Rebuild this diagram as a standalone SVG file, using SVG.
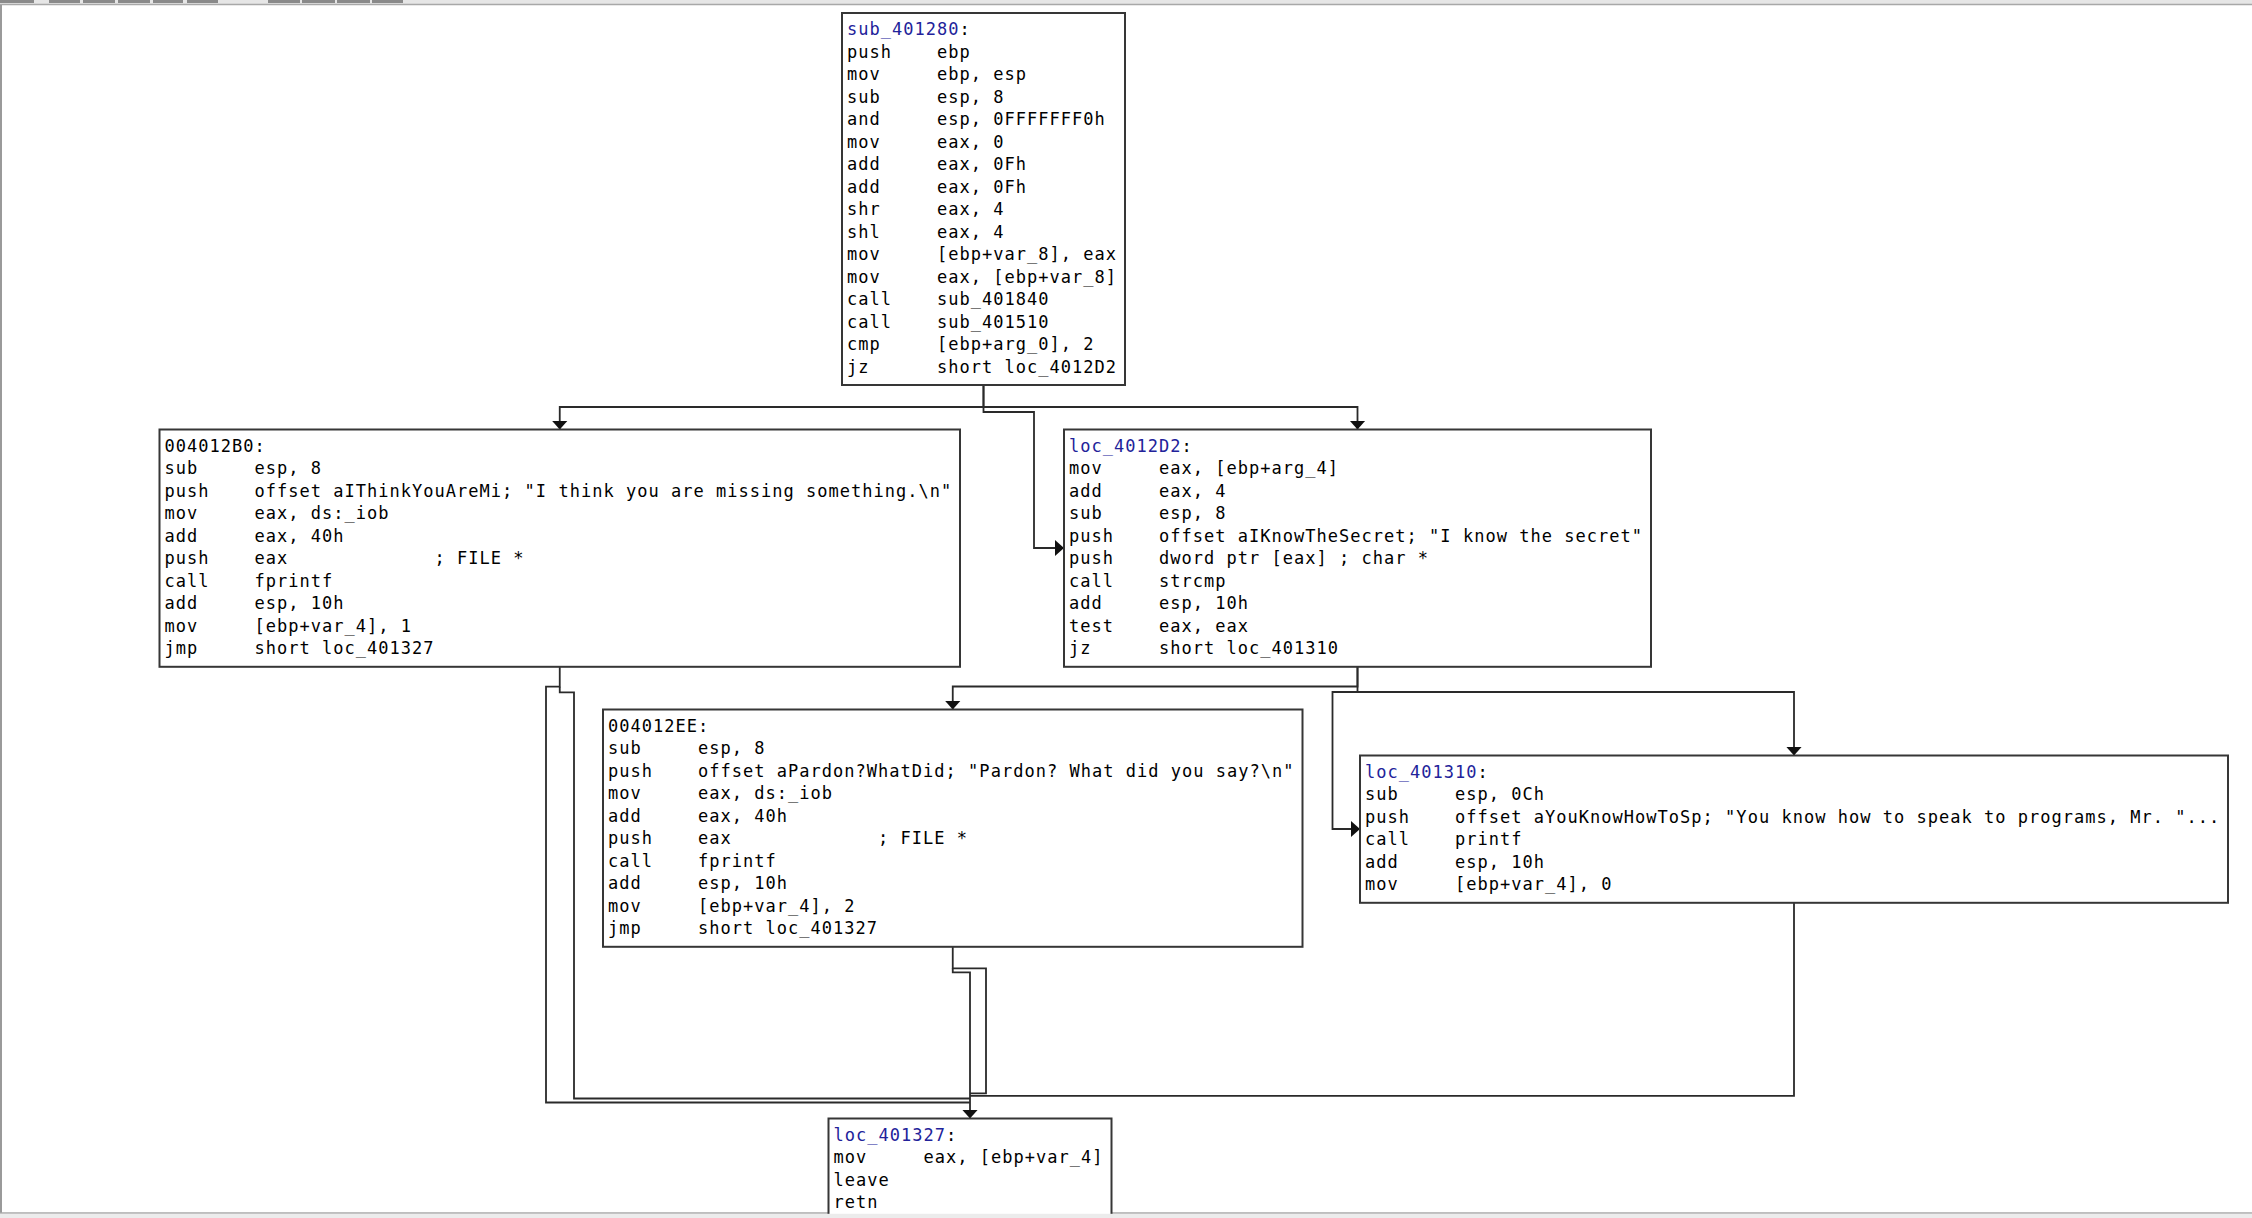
<svg xmlns="http://www.w3.org/2000/svg" width="2252" height="1218" viewBox="0 0 2252 1218">
<style>
.bx{fill:#fff;stroke:#363636;stroke-width:2}
.t{font-family:"DejaVu Sans Mono",monospace;font-size:17px;letter-spacing:1.02px;fill:#000}
.lb{fill:#22229a}
.e{fill:none;stroke:#2a2a2a;stroke-width:1.8}
</style>
<defs>
<marker id="ah" viewBox="0 0 9 16" refX="9" refY="8" markerWidth="9" markerHeight="16" markerUnits="userSpaceOnUse" orient="auto">
<path d="M0,0 L9,8 L0,16 Z" fill="#111"/>
</marker>
</defs>
<rect x="0" y="0" width="2252" height="1218" fill="#fff"/>
<g id="chrome">
<rect x="0" y="0" width="2252" height="4" fill="#e6e6e6"/>
<line x1="0" y1="4.5" x2="2252" y2="4.5" stroke="#a8a8a8" stroke-width="1.5"/>
<g fill="#8a8a8a">
<rect x="0" y="0" width="34" height="3"/><rect x="49" y="0" width="31" height="3"/><rect x="83" y="0" width="32" height="3"/><rect x="118" y="0" width="32" height="3"/><rect x="153" y="0" width="30" height="3"/><rect x="187" y="0" width="31" height="3"/>
<rect x="268" y="0" width="32" height="3"/><rect x="302" y="0" width="33" height="3"/><rect x="337" y="0" width="33" height="3"/><rect x="372" y="0" width="31" height="3"/>
</g>
<line x1="1" y1="5" x2="1" y2="1213" stroke="#9a9a9a" stroke-width="2"/>
<rect x="0" y="1213" width="2252" height="5" fill="#ececec"/>
<line x1="0" y1="1213" x2="2252" y2="1213" stroke="#a8a8a8" stroke-width="1.5"/>
<line x1="1281" y1="1214" x2="1281" y2="1218" stroke="#999" stroke-width="1.5"/>
</g>
<g id="connectors">
<path class="e" d="M983.5,385 V407 H559.75 V429.5" marker-end="url(#ah)"/>
<path class="e" d="M983.5,407 H1357.5 V429.5" marker-end="url(#ah)"/>
<path class="e" d="M983.5,385 V412 H1034 V548 H1064" marker-end="url(#ah)"/>
<path class="e" d="M1357.5,666.8 V686.5 H952.75 V709.5" marker-end="url(#ah)"/>
<path class="e" d="M1357.5,666.8 V692 H1794 V755.5" marker-end="url(#ah)"/>
<path class="e" d="M1357.5,692 H1332.5 V829 H1360" marker-end="url(#ah)"/>
<path class="e" d="M559.75,666.8 V686.7 H546 V1102.5 H970"/>
<path class="e" d="M559.75,686.7 V692.3 H574 V1098.5 H970"/>
<path class="e" d="M952.75,946.8 V968.3 H986 V1093.3 H970"/>
<path class="e" d="M1794,902.8 V1095.8 H970"/>
<path class="e" d="M952.75,968.3 V972.3 H970 V1118.5" marker-end="url(#ah)"/>
</g>
<g id="n_sub_401280" transform="translate(842,13)">
<rect class="bx" x="0" y="0" width="283" height="372"/>
<text class="t" x="5" y="22.3"><tspan class="lb">sub_401280</tspan>:</text>
<text class="t" x="5" y="44.8">push<tspan x="95">ebp</tspan></text>
<text class="t" x="5" y="67.3">mov<tspan x="95">ebp, esp</tspan></text>
<text class="t" x="5" y="89.8">sub<tspan x="95">esp, 8</tspan></text>
<text class="t" x="5" y="112.3">and<tspan x="95">esp, 0FFFFFFF0h</tspan></text>
<text class="t" x="5" y="134.8">mov<tspan x="95">eax, 0</tspan></text>
<text class="t" x="5" y="157.3">add<tspan x="95">eax, 0Fh</tspan></text>
<text class="t" x="5" y="179.8">add<tspan x="95">eax, 0Fh</tspan></text>
<text class="t" x="5" y="202.3">shr<tspan x="95">eax, 4</tspan></text>
<text class="t" x="5" y="224.8">shl<tspan x="95">eax, 4</tspan></text>
<text class="t" x="5" y="247.3">mov<tspan x="95">[ebp+var_8], eax</tspan></text>
<text class="t" x="5" y="269.8">mov<tspan x="95">eax, [ebp+var_8]</tspan></text>
<text class="t" x="5" y="292.3">call<tspan x="95">sub_401840</tspan></text>
<text class="t" x="5" y="314.8">call<tspan x="95">sub_401510</tspan></text>
<text class="t" x="5" y="337.3">cmp<tspan x="95">[ebp+arg_0], 2</tspan></text>
<text class="t" x="5" y="359.8">jz<tspan x="95">short loc_4012D2</tspan></text>
</g>
<g id="n_004012B0" transform="translate(159.5,429.5)">
<rect class="bx" x="0" y="0" width="800.5" height="237.3"/>
<text class="t" x="5" y="22.3">004012B0:</text>
<text class="t" x="5" y="44.8">sub<tspan x="95">esp, 8</tspan></text>
<text class="t" x="5" y="67.3">push<tspan x="95">offset aIThinkYouAreMi; "I think you are missing something.\n"</tspan></text>
<text class="t" x="5" y="89.8">mov<tspan x="95">eax, ds:_iob</tspan></text>
<text class="t" x="5" y="112.3">add<tspan x="95">eax, 40h</tspan></text>
<text class="t" x="5" y="134.8">push<tspan x="95">eax</tspan><tspan x="275">; FILE *</tspan></text>
<text class="t" x="5" y="157.3">call<tspan x="95">fprintf</tspan></text>
<text class="t" x="5" y="179.8">add<tspan x="95">esp, 10h</tspan></text>
<text class="t" x="5" y="202.3">mov<tspan x="95">[ebp+var_4], 1</tspan></text>
<text class="t" x="5" y="224.8">jmp<tspan x="95">short loc_401327</tspan></text>
</g>
<g id="n_loc_4012D2" transform="translate(1064,429.5)">
<rect class="bx" x="0" y="0" width="587" height="237.3"/>
<text class="t" x="5" y="22.3"><tspan class="lb">loc_4012D2</tspan>:</text>
<text class="t" x="5" y="44.8">mov<tspan x="95">eax, [ebp+arg_4]</tspan></text>
<text class="t" x="5" y="67.3">add<tspan x="95">eax, 4</tspan></text>
<text class="t" x="5" y="89.8">sub<tspan x="95">esp, 8</tspan></text>
<text class="t" x="5" y="112.3">push<tspan x="95">offset aIKnowTheSecret; "I know the secret"</tspan></text>
<text class="t" x="5" y="134.8">push<tspan x="95">dword ptr [eax] ; char *</tspan></text>
<text class="t" x="5" y="157.3">call<tspan x="95">strcmp</tspan></text>
<text class="t" x="5" y="179.8">add<tspan x="95">esp, 10h</tspan></text>
<text class="t" x="5" y="202.3">test<tspan x="95">eax, eax</tspan></text>
<text class="t" x="5" y="224.8">jz<tspan x="95">short loc_401310</tspan></text>
</g>
<g id="n_004012EE" transform="translate(603,709.5)">
<rect class="bx" x="0" y="0" width="699.5" height="237.3"/>
<text class="t" x="5" y="22.3">004012EE:</text>
<text class="t" x="5" y="44.8">sub<tspan x="95">esp, 8</tspan></text>
<text class="t" x="5" y="67.3">push<tspan x="95">offset aPardon?WhatDid; "Pardon? What did you say?\n"</tspan></text>
<text class="t" x="5" y="89.8">mov<tspan x="95">eax, ds:_iob</tspan></text>
<text class="t" x="5" y="112.3">add<tspan x="95">eax, 40h</tspan></text>
<text class="t" x="5" y="134.8">push<tspan x="95">eax</tspan><tspan x="275">; FILE *</tspan></text>
<text class="t" x="5" y="157.3">call<tspan x="95">fprintf</tspan></text>
<text class="t" x="5" y="179.8">add<tspan x="95">esp, 10h</tspan></text>
<text class="t" x="5" y="202.3">mov<tspan x="95">[ebp+var_4], 2</tspan></text>
<text class="t" x="5" y="224.8">jmp<tspan x="95">short loc_401327</tspan></text>
</g>
<g id="n_loc_401310" transform="translate(1360,755.5)">
<rect class="bx" x="0" y="0" width="868" height="147.3"/>
<text class="t" x="5" y="22.3"><tspan class="lb">loc_401310</tspan>:</text>
<text class="t" x="5" y="44.8">sub<tspan x="95">esp, 0Ch</tspan></text>
<text class="t" x="5" y="67.3">push<tspan x="95">offset aYouKnowHowToSp; "You know how to speak to programs, Mr. "...</tspan></text>
<text class="t" x="5" y="89.8">call<tspan x="95">printf</tspan></text>
<text class="t" x="5" y="112.3">add<tspan x="95">esp, 10h</tspan></text>
<text class="t" x="5" y="134.8">mov<tspan x="95">[ebp+var_4], 0</tspan></text>
</g>
<g id="n_loc_401327" transform="translate(828.5,1118.5)">
<rect class="bx" x="0" y="0" width="283" height="102.3"/>
<text class="t" x="5" y="22.3"><tspan class="lb">loc_401327</tspan>:</text>
<text class="t" x="5" y="44.8">mov<tspan x="95">eax, [ebp+var_4]</tspan></text>
<text class="t" x="5" y="67.3">leave</text>
<text class="t" x="5" y="89.8">retn</text>
</g>
<rect x="0" y="1213.8" width="2252" height="4.2" fill="#ececec"/>
</svg>
